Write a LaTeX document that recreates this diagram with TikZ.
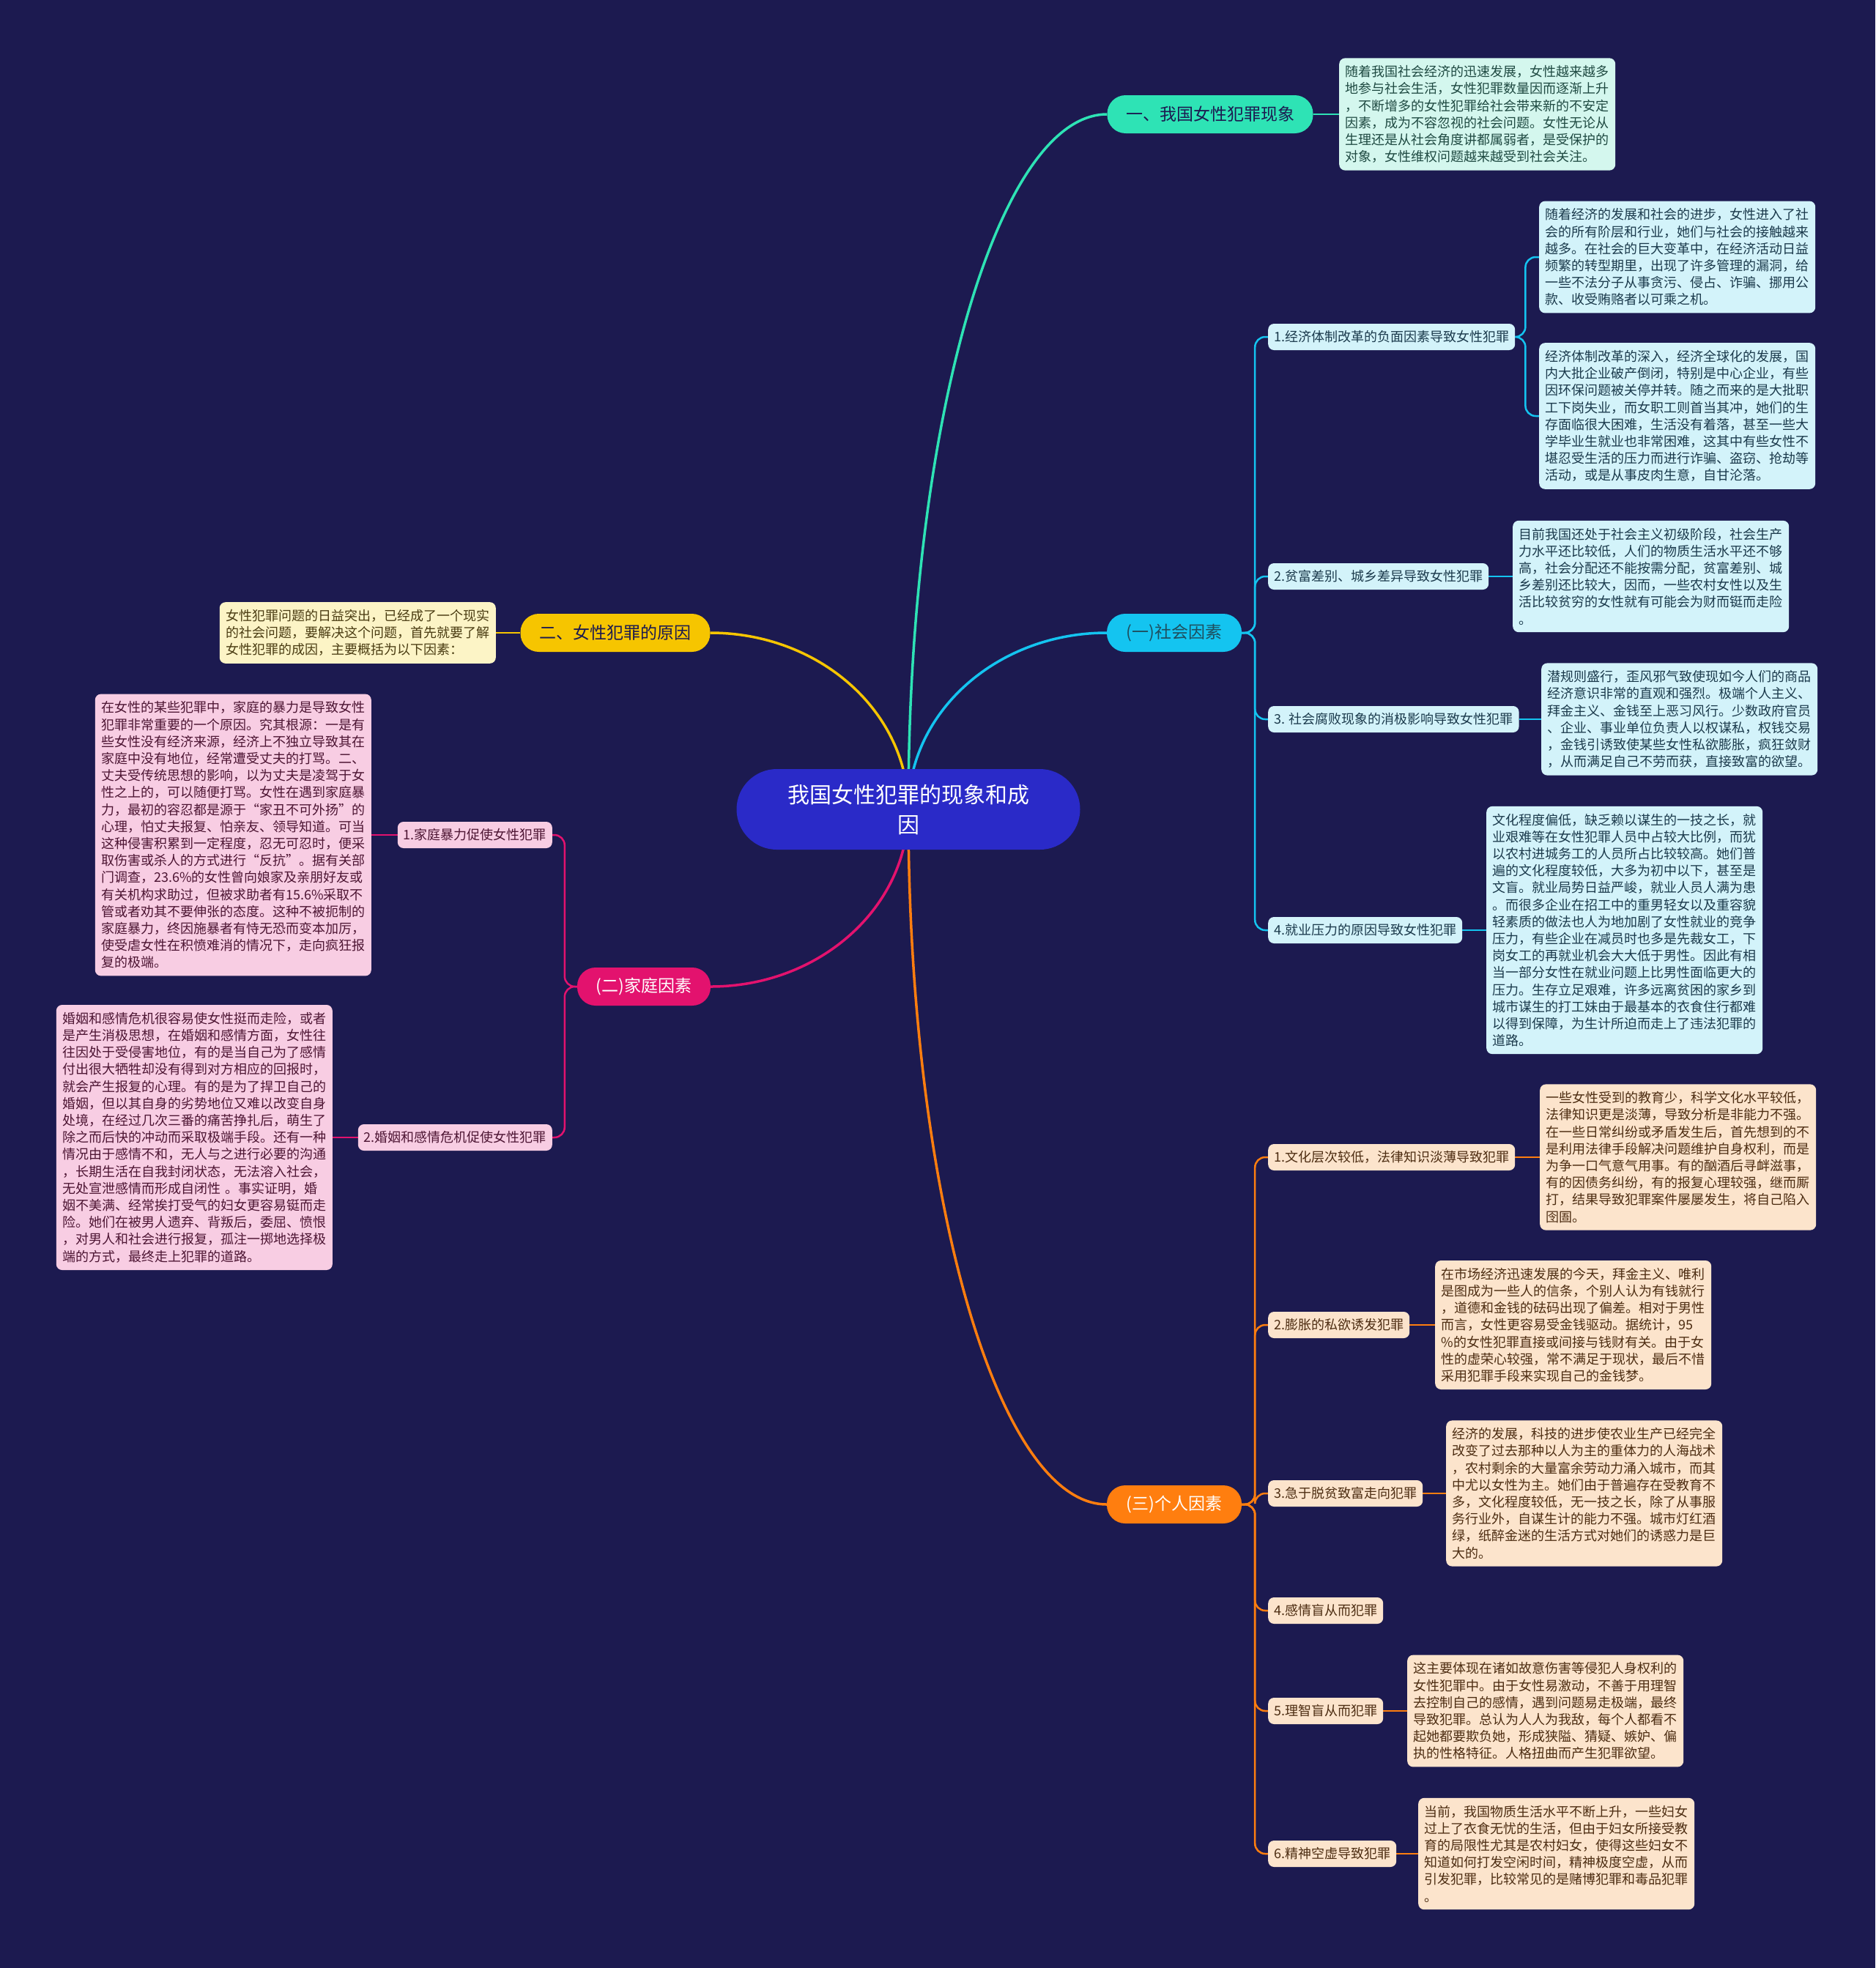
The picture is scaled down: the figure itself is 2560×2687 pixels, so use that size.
\documentclass[tikz,border=0pt]{standalone}
\usepackage{fontspec}
\setmainfont{Noto Sans CJK SC}
\usetikzlibrary{calc,backgrounds}
\definecolor{bgc}{HTML}{1C1A50}
\definecolor{rootc}{HTML}{2A2AC8}
\definecolor{tealc}{HTML}{2EE3B5}
\definecolor{teall}{HTML}{D4F7EE}
\definecolor{tealt}{HTML}{1F4A42}
\definecolor{cyanc}{HTML}{14C4F0}
\definecolor{cyanl}{HTML}{D3F3FA}
\definecolor{cyant}{HTML}{1B3A4C}
\definecolor{cyannt}{HTML}{1E4E5E}
\definecolor{yelc}{HTML}{F6C500}
\definecolor{yell}{HTML}{FCF4C6}
\definecolor{yelt}{HTML}{4A3C12}
\definecolor{magc}{HTML}{E3126E}
\definecolor{magl}{HTML}{F8CDE3}
\definecolor{magt}{HTML}{4D1533}
\definecolor{orc}{HTML}{FF7E0F}
\definecolor{orl}{HTML}{FCE4CC}
\definecolor{ort}{HTML}{4D2D12}
\tikzset{
 conn/.style={line width=3.5pt},
 subconn/.style={line width=2.5pt, rounded corners=14pt},
 arcto/.style={to path={.. controls ($(\tikztostart)!0.552!(\tikztostart|-\tikztotarget)$) and ($(\tikztotarget)!0.552!(\tikztostart|-\tikztotarget)$) .. (\tikztotarget)}},
 lone/.style={rounded corners=25pt, font=\fontsize{23}{28}\selectfont, minimum height=52pt, inner sep=0pt},
 ltwo/.style={rounded corners=8pt, font=\fontsize{18}{21}\selectfont, minimum height=36pt, inner xsep=8pt, inner ysep=0pt},
 leaf/.style={rounded corners=8pt, font=\fontsize{18}{23.2}\selectfont, text width=360pt, align=left, inner xsep=8.5pt, inner ysep=10pt},
}
\begin{document}
\begin{tikzpicture}[x=1pt,y=-1pt]
\useasboundingbox (0,0) rectangle (2560,2687);
% root
\node[fill=rootc, rounded corners=55pt, minimum width=469pt, minimum height=110pt, text width=360pt, align=center, text=white, font=\fontsize{30}{41}\selectfont] (root) at (1240,1105) {我国女性犯罪的现象和成\\因};
% level 1
\node[lone, fill=tealc, text=bgc, minimum width=281pt] (n1) at (1652,156) {一、我国女性犯罪现象};
\node[lone, fill=cyanc, text=cyannt, minimum width=184pt] (soc) at (1603,864) {(一)社会因素};
\node[lone, fill=yelc, text=bgc, minimum width=259pt] (why) at (840,864) {二、女性犯罪的原因};
\node[lone, fill=magc, text=white, minimum width=182pt] (fam) at (879,1347) {(二)家庭因素};
\node[lone, fill=orc, text=white, minimum width=184pt] (per) at (1603,2054) {(三)个人因素};
% level 2 social
\node[ltwo, fill=cyanl, text=cyant, anchor=west] (s1) at (1731,460) {1.经济体制改革的负面因素导致女性犯罪};
\node[ltwo, fill=cyanl, text=cyant, anchor=west] (s2) at (1731,787) {2.贫富差别、城乡差异导致女性犯罪};
\node[ltwo, fill=cyanl, text=cyant, anchor=west] (s3) at (1731,982) {3. 社会腐败现象的消极影响导致女性犯罪};
\node[ltwo, fill=cyanl, text=cyant, anchor=west] (s4) at (1731,1270) {4.就业压力的原因导致女性犯罪};
% level 2 personal
\node[ltwo, fill=orl, text=ort, anchor=west] (p1) at (1731,1580) {1.文化层次较低，法律知识淡薄导致犯罪};
\node[ltwo, fill=orl, text=ort, anchor=west] (p2) at (1731,1809) {2.膨胀的私欲诱发犯罪};
\node[ltwo, fill=orl, text=ort, anchor=west] (p3) at (1731,2039) {3.急于脱贫致富走向犯罪};
\node[ltwo, fill=orl, text=ort, anchor=west] (p4) at (1731,2199) {4.感情盲从而犯罪};
\node[ltwo, fill=orl, text=ort, anchor=west] (p5) at (1731,2336) {5.理智盲从而犯罪};
\node[ltwo, fill=orl, text=ort, anchor=west] (p6) at (1731,2531) {6.精神空虚导致犯罪};
% level 2 family
\node[ltwo, fill=magl, text=magt, anchor=east] (f1) at (754,1140) {1.家庭暴力促使女性犯罪};
\node[ltwo, fill=magl, text=magt, anchor=east] (f2) at (754,1553) {2.婚姻和感情危机促使女性犯罪};
% leaves
\node[leaf, fill=teall, text=tealt, anchor=west] (l0) at (1828,156) {随着我国社会经济的迅速发展，女性越来越多\\地参与社会生活，女性犯罪数量因而逐渐上升\\，不断增多的女性犯罪给社会带来新的不安定\\因素，成为不容忽视的社会问题。女性无论从\\生理还是从社会角度讲都属弱者，是受保护的\\对象，女性维权问题越来越受到社会关注。};
\node[leaf, fill=cyanl, text=cyant, anchor=west] (s1a) at (2101,351) {随着经济的发展和社会的进步，女性进入了社\\会的所有阶层和行业，她们与社会的接触越来\\越多。在社会的巨大变革中，在经济活动日益\\频繁的转型期里，出现了许多管理的漏洞，给\\一些不法分子从事贪污、侵占、诈骗、挪用公\\款、收受贿赂者以可乘之机。};
\node[leaf, fill=cyanl, text=cyant, anchor=west] (s1b) at (2101,568) {经济体制改革的深入，经济全球化的发展，国\\内大批企业破产倒闭，特别是中心企业，有些\\因环保问题被关停并转。随之而来的是大批职\\工下岗失业，而女职工则首当其冲，她们的生\\存面临很大困难，生活没有着落，甚至一些大\\学毕业生就业也非常困难，这其中有些女性不\\堪忍受生活的压力而进行诈骗、盗窃、抢劫等\\活动，或是从事皮肉生意，自甘沦落。};
\node[leaf, fill=cyanl, text=cyant, anchor=west] (s2a) at (2065,787) {目前我国还处于社会主义初级阶段，社会生产\\力水平还比较低，人们的物质生活水平还不够\\高，社会分配还不能按需分配，贫富差别、城\\乡差别还比较大，因而，一些农村女性以及生\\活比较贫穷的女性就有可能会为财而铤而走险\\。};
\node[leaf, fill=cyanl, text=cyant, anchor=west] (s3a) at (2104,982) {潜规则盛行，歪风邪气致使现如今人们的商品\\经济意识非常的直观和强烈。极端个人主义、\\拜金主义、金钱至上恶习风行。少数政府官员\\、企业、事业单位负责人以权谋私，权钱交易\\，金钱引诱致使某些女性私欲膨胀，疯狂敛财\\，从而满足自己不劳而获，直接致富的欲望。};
\node[leaf, fill=cyanl, text=cyant, anchor=west] (s4a) at (2029,1270) {文化程度偏低，缺乏赖以谋生的一技之长，就\\业艰难等在女性犯罪人员中占较大比例，而犹\\以农村进城务工的人员所占比较较高。她们普\\遍的文化程度较低，大多为初中以下，甚至是\\文盲。就业局势日益严峻，就业人员人满为患\\。而很多企业在招工中的重男轻女以及重容貌\\轻素质的做法也人为地加剧了女性就业的竞争\\压力，有些企业在减员时也多是先裁女工，下\\岗女工的再就业机会大大低于男性。因此有相\\当一部分女性在就业问题上比男性面临更大的\\压力。生存立足艰难，许多远离贫困的家乡到\\城市谋生的打工妹由于最基本的衣食住行都难\\以得到保障，为生计所迫而走上了违法犯罪的\\道路。};
\node[leaf, fill=orl, text=ort, anchor=west] (p1a) at (2102,1580) {一些女性受到的教育少，科学文化水平较低，\\法律知识更是淡薄，导致分析是非能力不强。\\在一些日常纠纷或矛盾发生后，首先想到的不\\是利用法律手段解决问题维护自身权利，而是\\为争一口气意气用事。有的酗酒后寻衅滋事，\\有的因债务纠纷，有的报复心理较强，继而厮\\打，结果导致犯罪案件屡屡发生，将自己陷入\\囹圄。};
\node[leaf, fill=orl, text=ort, anchor=west] (p2a) at (1959,1809) {在市场经济迅速发展的今天，拜金主义、唯利\\是图成为一些人的信条，个别人认为有钱就行\\，道德和金钱的砝码出现了偏差。相对于男性\\而言，女性更容易受金钱驱动。据统计，95\\\%的女性犯罪直接或间接与钱财有关。由于女\\性的虚荣心较强，常不满足于现状，最后不惜\\采用犯罪手段来实现自己的金钱梦。};
\node[leaf, fill=orl, text=ort, anchor=west] (p3a) at (1974,2039) {经济的发展，科技的进步使农业生产已经完全\\改变了过去那种以人为主的重体力的人海战术\\，农村剩余的大量富余劳动力涌入城市，而其\\中尤以女性为主。她们由于普遍存在受教育不\\多，文化程度较低，无一技之长，除了从事服\\务行业外，自谋生计的能力不强。城市灯红酒\\绿，纸醉金迷的生活方式对她们的诱惑力是巨\\大的。};
\node[leaf, fill=orl, text=ort, anchor=west] (p5a) at (1921,2336) {这主要体现在诸如故意伤害等侵犯人身权利的\\女性犯罪中。由于女性易激动，不善于用理智\\去控制自己的感情，遇到问题易走极端，最终\\导致犯罪。总认为人人为我敌，每个人都看不\\起她都要欺负她，形成狭隘、猜疑、嫉妒、偏\\执的性格特征。人格扭曲而产生犯罪欲望。};
\node[leaf, fill=orl, text=ort, anchor=west] (p6a) at (1936,2531) {当前，我国物质生活水平不断上升，一些妇女\\过上了衣食无忧的生活，但由于妇女所接受教\\育的局限性尤其是农村妇女，使得这些妇女不\\知道如何打发空闲时间，精神极度空虚，从而\\引发犯罪，比较常见的是赌博犯罪和毒品犯罪\\。};
\node[leaf, fill=yell, text=yelt, anchor=east] (intro) at (677,864) {女性犯罪问题的日益突出，已经成了一个现实\\的社会问题，要解决这个问题，首先就要了解\\女性犯罪的成因，主要概括为以下因素：};
\node[leaf, fill=magl, text=magt, anchor=east] (f1a) at (507,1140) {在女性的某些犯罪中，家庭的暴力是导致女性\\犯罪非常重要的一个原因。究其根源：一是有\\些女性没有经济来源，经济上不独立导致其在\\家庭中没有地位，经常遭受丈夫的打骂。二、\\丈夫受传统思想的影响，以为丈夫是凌驾于女\\性之上的，可以随便打骂。女性在遇到家庭暴\\力，最初的容忍都是源于“家丑不可外扬”的\\心理，怕丈夫报复、怕亲友、领导知道。可当\\这种侵害积累到一定程度，忍无可忍时，便采\\取伤害或杀人的方式进行“反抗”。据有关部\\门调查，23.6\%的女性曾向娘家及亲朋好友或\\有关机构求助过，但被求助者有15.6\%采取不\\管或者劝其不要伸张的态度。这种不被扼制的\\家庭暴力，终因施暴者有恃无恐而变本加厉，\\使受虐女性在积愤难消的情况下，走向疯狂报\\复的极端。};
\node[leaf, fill=magl, text=magt, anchor=east] (f2a) at (454,1553) {婚姻和感情危机很容易使女性挺而走险，或者\\是产生消极思想，在婚姻和感情方面，女性往\\往因处于受侵害地位，有的是当自己为了感情\\付出很大牺牲却没有得到对方相应的回报时，\\就会产生报复的心理。有的是为了捍卫自己的\\婚姻，但以其自身的劣势地位又难以改变自身\\处境，在经过几次三番的痛苦挣扎后，萌生了\\除之而后快的冲动而采取极端手段。还有一种\\情况由于感情不和，无人与之进行必要的沟通\\，长期生活在自我封闭状态，无法溶入社会，\\无处宣泄感情而形成自闭性 。事实证明，婚\\姻不美满、经常挨打受气的妇女更容易铤而走\\险。她们在被男人遗弃、背叛后，委屈、愤恨\\，对男人和社会进行报复，孤注一掷地选择极\\端的方式，最终走上犯罪的道路。};
% spine points
\coordinate (sps) at ($(soc.east)+(18,0)$);
\coordinate (spp) at ($(per.east)+(18,0)$);
\coordinate (spf) at ($(fam.west)+(-17,0)$);
\coordinate (sp1) at ($(s1.east)+(14,0)$);
\begin{scope}[on background layer]
\fill[bgc] (0,0) rectangle (2560,2687);
\draw[conn, tealc] (root.center) to[arcto] (n1.west);
\draw[conn, cyanc] (root.center) to[arcto] (soc.west);
\draw[conn, yelc] (root.center) to[arcto] (why.east);
\draw[conn, magc] (root.center) to[arcto] (fam.east);
\draw[conn, orc] (root.center) to[arcto] (per.west);
\draw[subconn, tealc] (n1.east) -- (l0.west);
\draw[subconn, yelc] (why.west) -- (intro.east);
\foreach \c in {s1,s2,s3,s4}{\draw[subconn, cyanc] (soc.east) -- (sps) |- (\c.west);}
\foreach \c in {p1,p2,p3,p4,p5,p6}{\draw[subconn, orc] (per.east) -- (spp) |- (\c.west);}
\foreach \c in {f1,f2}{\draw[subconn, magc] (fam.west) -- (spf) |- (\c.east);}
\draw[subconn, cyanc] (s1.east) -- (sp1) |- (s1a.west);
\draw[subconn, cyanc] (s1.east) -- (sp1) |- (s1b.west);
\draw[subconn, cyanc] (s2.east) -- (s2a.west);
\draw[subconn, cyanc] (s3.east) -- (s3a.west);
\draw[subconn, cyanc] (s4.east) -- (s4a.west);
\draw[subconn, orc] (p1.east) -- (p1a.west);
\draw[subconn, orc] (p2.east) -- (p2a.west);
\draw[subconn, orc] (p3.east) -- (p3a.west);
\draw[subconn, orc] (p5.east) -- (p5a.west);
\draw[subconn, orc] (p6.east) -- (p6a.west);
\draw[subconn, magc] (f1.west) -- (f1a.east);
\draw[subconn, magc] (f2.west) -- (f2a.east);
\end{scope}
\end{tikzpicture}
\end{document}
